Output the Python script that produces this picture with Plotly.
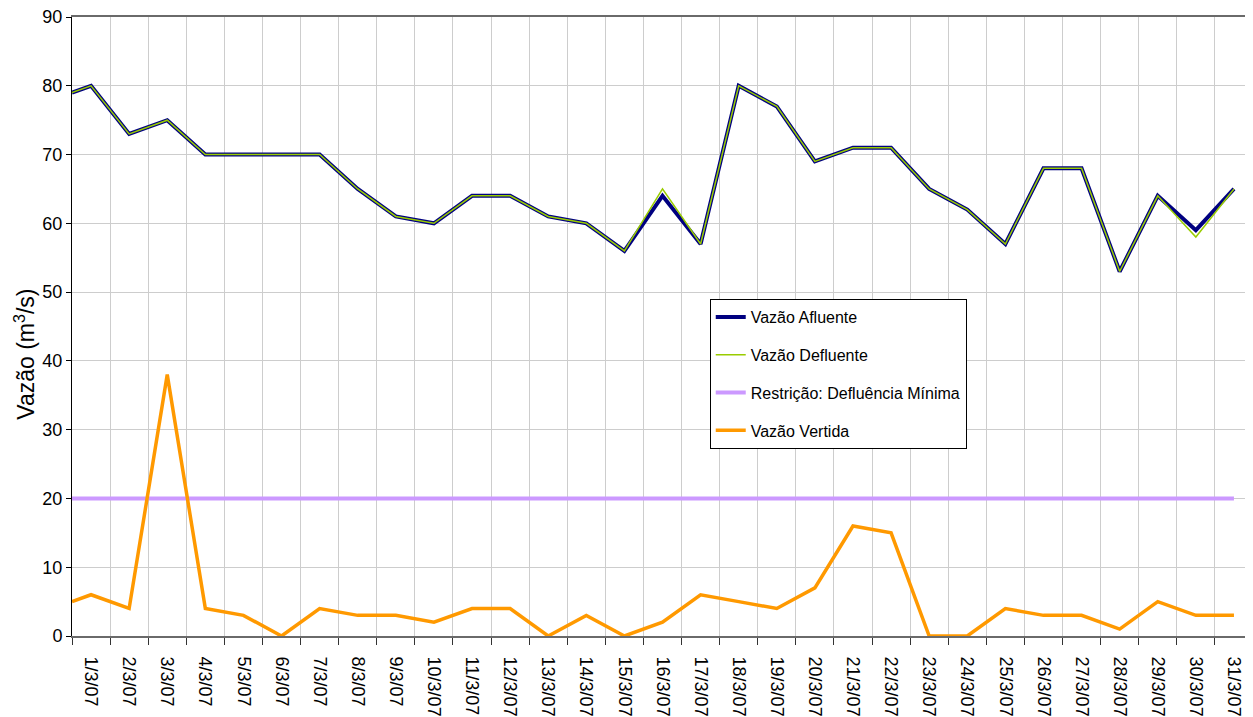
import plotly.graph_objects as go

# x positions: first reading at the start of 1/3, then one reading per day (midday)
x_dates = ["2007-03-01 00:00"] + [f"2007-03-{d:02d} 12:00" for d in range(1, 32)]

vazao_afluente = [79, 80, 73, 75, 70, 70, 70, 70, 65, 61, 60, 64, 64, 61, 60, 56,
                  64, 57, 80, 77, 69, 71, 71, 65, 62, 57, 68, 68, 53, 64, 59, 65]
vazao_defluente = [79, 80, 73, 75, 70, 70, 70, 70, 65, 61, 60, 64, 64, 61, 60, 56,
                   65, 57, 80, 77, 69, 71, 71, 65, 62, 57, 68, 68, 53, 64, 58, 65]
restricao_minima = [20] * 32
vazao_vertida = [5, 6, 4, 38, 4, 3, 0, 4, 3, 3, 2, 4, 4, 0, 3, 0,
                 2, 6, 5, 4, 7, 16, 15, 0, 0, 4, 3, 3, 1, 5, 3, 3]

REG = "Liberation Sans, Arial, sans-serif"

fig = go.Figure()
fig.add_trace(go.Scatter(x=x_dates, y=vazao_afluente, mode="lines", name="Vazão Afluente",
                         line=dict(color="#000080", width=4), legendgroup="a"))
fig.add_trace(go.Scatter(x=x_dates, y=vazao_defluente, mode="lines", name="Vazão Defluente",
                         line=dict(color="#99CC00", width=1.5), legendgroup="b"))
fig.add_trace(go.Scatter(x=x_dates, y=restricao_minima, mode="lines",
                         name="Restrição: Defluência Mínima",
                         line=dict(color="#CC99FF", width=4), legendgroup="c"))
fig.add_trace(go.Scatter(x=x_dates, y=vazao_vertida, mode="lines", name="Vazão Vertida",
                         line=dict(color="#FF9900", width=3.5), legendgroup="d"))

fig.update_layout(
    width=1245, height=709,
    margin=dict(l=64, r=0, t=9, b=81, autoexpand=False),
    paper_bgcolor="white", plot_bgcolor="white",
    showlegend=True,
    legend=dict(x=0.540, y=0.5444, xanchor="left", yanchor="top",
                bgcolor="white", bordercolor="black", borderwidth=1,
                font=dict(family=REG, size=16, color="black"),
                tracegroupgap=14, itemwidth=30),
    annotations=[dict(text="Vazão (m<sup>3</sup>/s)", textangle=-90,
                      xref="paper", yref="paper", x=-0.040, y=0.4556,
                      xanchor="center", yanchor="middle", showarrow=False,
                      font=dict(family=REG, size=23, color="black"))],
)
fig.update_xaxes(
    type="date", range=["2007-03-01", "2007-04-01"], automargin=False,
    tick0="2007-03-01", dtick=86400000, tickformat="%-d/%-m/%y",
    ticklabelmode="period", tickangle=90, ticklabelstandoff=8,
    ticks="outside", ticklen=7, tickcolor="#333333", tickwidth=1,
    showline=True, linecolor="#6a6a6a", linewidth=2, mirror=True,
    showgrid=True, gridcolor="#CDCDCD", gridwidth=1,
    tickfont=dict(family=REG, size=18, color="black"),
    ticklabeloverflow="allow",
)
fig.update_yaxes(
    range=[0, 90], dtick=10, tick0=0, automargin=False,
    ticks="outside", ticklen=5, tickcolor="black",
    showline=True, linecolor="black", linewidth=1,
    showgrid=True, gridcolor="#CDCDCD", gridwidth=1, zeroline=False,
    tickfont=dict(family=REG, size=18, color="black"),
    ticklabeloverflow="allow",
)

fig.write_html("out.html")
